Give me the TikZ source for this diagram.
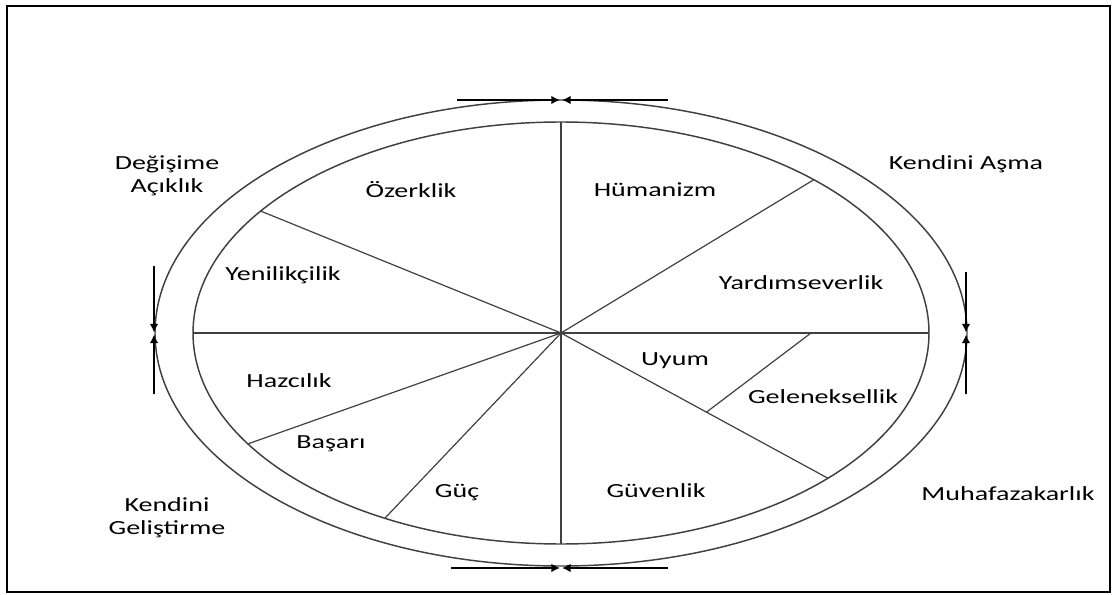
\documentclass[tikz,border=0pt]{standalone}
\usepackage{fontspec}
\setmainfont{Carlito}[FakeStretch=1.4]
\usetikzlibrary{arrows.meta,calc}
\begin{document}
\begin{tikzpicture}[x=0.75pt,y=-0.75pt,
  lbl/.style={font=\fontsize{15}{17.5}\selectfont, align=center, inner sep=0pt, text=black},
  ring/.style={draw=black!75, line width=1.1pt},
  seg/.style={draw=black!75, line width=0.9pt},
  marker/.style={draw=black, line width=1.5pt, -{Latex[length=6.5pt,width=6.5pt]}},
  frame/.style={draw=black, line width=1.6pt}]
\useasboundingbox (0,0) rectangle (1113,595);
\draw[frame] (7,6) rectangle (1110,592);
\coordinate (c) at (561,333);
% rings
\draw[ring] (c) ellipse [x radius=304.5pt, y radius=174.75pt];
\draw[ring] (c) ellipse [x radius=276pt, y radius=158.25pt];
% boundary points on inner ellipse
\coordinate (top) at ($(c)+(-90:368 and 211)$);
\coordinate (bot) at ($(c)+(90:368 and 211)$);
\coordinate (lft) at ($(c)+(180:368 and 211)$);
\coordinate (rgt) at ($(c)+(0:368 and 211)$);
\coordinate (ur) at ($(c)+(-46.6:368 and 211)$);
\coordinate (ul) at ($(c)+(-144.7:368 and 211)$);
\coordinate (ll) at ($(c)+(148.3:368 and 211)$);
\coordinate (lb) at ($(c)+(118.6:368 and 211)$);
\coordinate (lr) at ($(c)+(43.5:368 and 211)$);
\draw[seg] (top) -- (bot);
\draw[seg] (lft) -- (rgt);
\draw[seg] (c) -- (ur);
\draw[seg] (c) -- (ul);
\draw[seg] (c) -- (ll);
\draw[seg] (c) -- (lb);
\draw[seg] (c) -- (lr);
\coordinate (dv1) at (811,333);
\coordinate (dv2) at ($(c)!0.545!(lr)$);
\draw[seg] (dv1) -- (dv2);
% boundary markers
\coordinate (t1) at (457,100); \coordinate (t2) at (560,100);
\coordinate (t3) at (668,100); \coordinate (t4) at (562,100);
\draw[marker] (t1) -- (t2);
\draw[marker] (t3) -- (t4);
\coordinate (b1) at (451,568); \coordinate (b2) at (560,568);
\coordinate (b3) at (668,568); \coordinate (b4) at (562,568);
\draw[marker] (b1) -- (b2);
\draw[marker] (b3) -- (b4);
\coordinate (l1) at (154,266); \coordinate (l2) at (154,332.5);
\coordinate (l3) at (154,394); \coordinate (l4) at (154,334.5);
\draw[marker] (l1) -- (l2);
\draw[marker] (l3) -- (l4);
\coordinate (r1) at (966,272); \coordinate (r2) at (966,332.5);
\coordinate (r3) at (966,394); \coordinate (r4) at (966,334.5);
\draw[marker] (r1) -- (r2);
\draw[marker] (r3) -- (r4);
% outer labels
\node[lbl] (degisime) at (167,176) {Değişime\\Açıklık};
\node[lbl] (asma) at (966,164) {Kendini Aşma};
\node[lbl] (gelistirme) at (167,518) {Kendini\\Geliştirme};
\node[lbl] (muhafaza) at (1008,494) {Muhafazakarlık};
% inner labels
\node[lbl] (ozerklik) at (411,190) {Özerklik};
\node[lbl] (humanizm) at (655,190) {Hümanizm};
\node[lbl] (yenilik) at (283,275) {Yenilikçilik};
\node[lbl] (yardim) at (801,283) {Yardımseverlik};
\node[lbl] (hazcilik) at (289,381) {Hazcılık};
\node[lbl] (uyum) at (675,361) {Uyum};
\node[lbl] (gelenek) at (823,397) {Geleneksellik};
\node[lbl] (basari) at (331,444) {Başarı};
\node[lbl] (guc) at (457,493) {Güç};
\node[lbl] (guvenlik) at (656,491) {Güvenlik};
\end{tikzpicture}
\end{document}
